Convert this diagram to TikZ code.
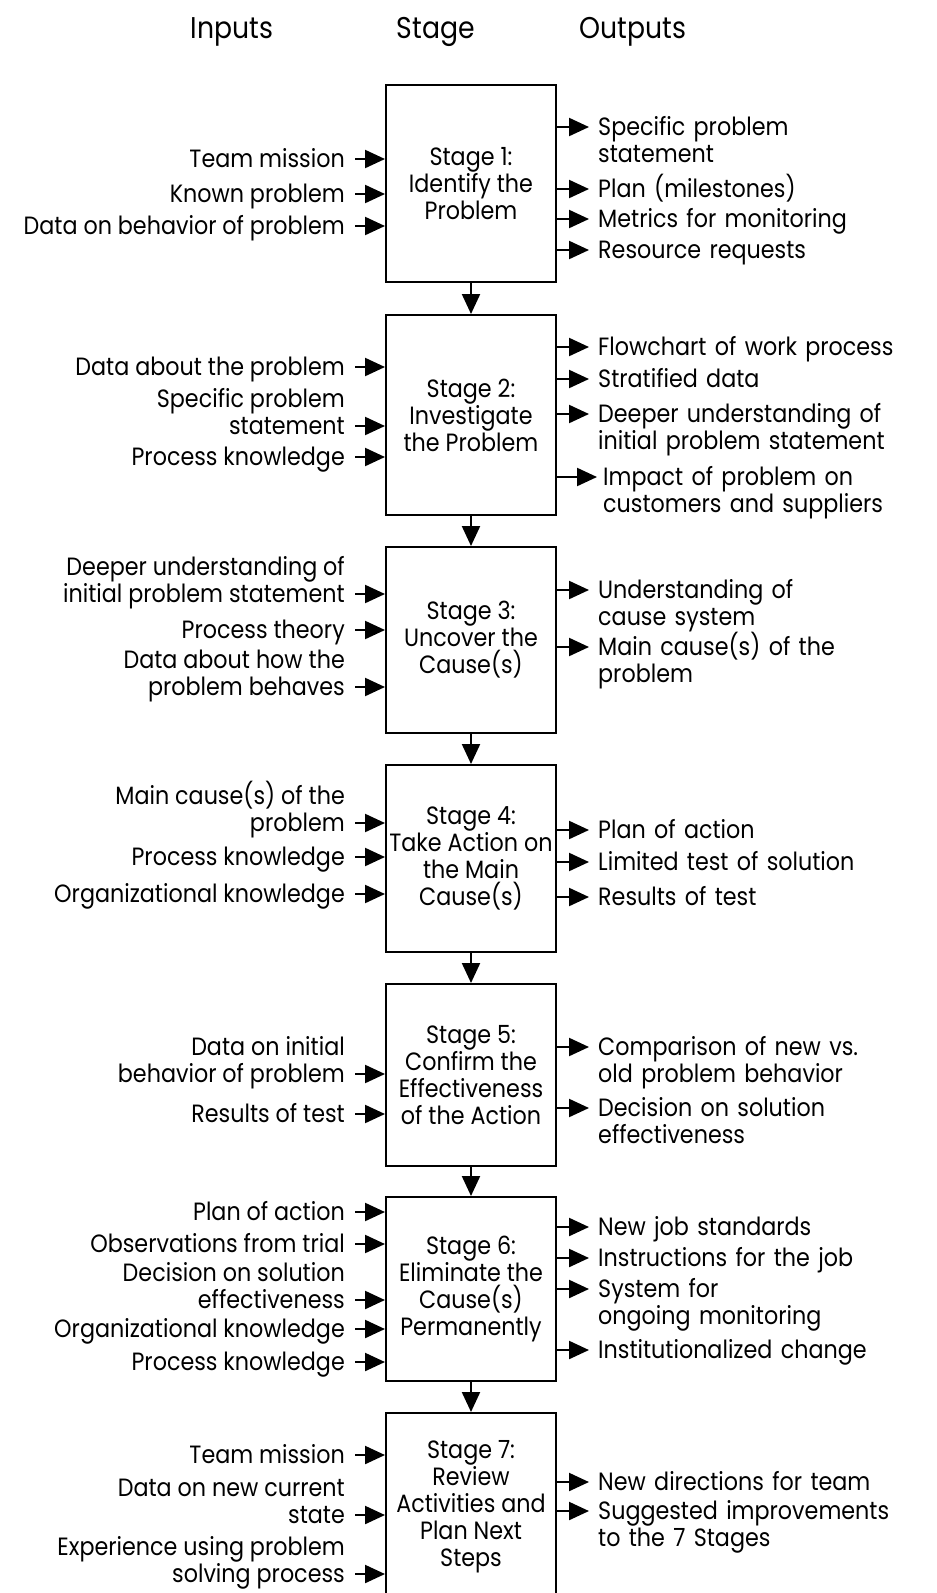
\documentclass[tikz,border=0pt]{standalone}
\usepackage{fontspec}
\setmainfont[FakeStretch=0.89]{Poppins}
\usetikzlibrary{arrows.meta,positioning,calc}

\begin{document}
\begin{tikzpicture}[x=1pt,y=-1pt,
  stagebox/.style={draw,line width=2pt,minimum width=170pt,inner sep=0pt,align=center,font=\fontsize{25}{27}\selectfont},
  inlbl/.style={anchor=base east,inner sep=0pt,align=right,font=\fontsize{25}{27}\selectfont},
  outlbl/.style={anchor=base west,inner sep=0pt,text width=330pt,align=left,font=\fontsize{25}{27}\selectfont},
  head/.style={anchor=base,inner sep=0pt,font=\fontsize{30}{32}\selectfont},
  arr/.style={-{Triangle[length=20pt,width=18pt]},line width=2.2pt}]
\useasboundingbox[fill=white] (0,0) rectangle (937,1593);

% column heads
\node[head] (hin) at (232,38) {Inputs};
\node[head] (hst) at (436,38) {Stage};
\node[head] (hout) at (633,38) {Outputs};

% the seven stages
\node[stagebox,minimum height=197pt] (s1) at (471,183.5) {Stage 1:\\Identify the\\Problem};
\node[stagebox,minimum height=200pt] (s2) at (471,415) {Stage 2:\\Investigate\\the Problem};
\node[stagebox,minimum height=186pt] (s3) at (471,640) {Stage 3:\\Uncover the\\Cause(s)};
\node[stagebox,minimum height=187pt] (s4) at (471,858.5) {Stage 4:\\Take Action on\\the Main\\Cause(s)};
\node[stagebox,minimum height=182pt] (s5) at (471,1075) {Stage 5:\\Confirm the\\Effectiveness\\of the Action};
\node[stagebox,minimum height=184pt] (s6) at (471,1289) {Stage 6:\\Eliminate the\\Cause(s)\\Permanently};
\node[stagebox,minimum height=187pt] (s7) at (471,1506.5) {Stage 7:\\Review\\Activities and\\Plan Next\\Steps};

\draw[arr] (s1) -- (s2);
\draw[arr] (s2) -- (s3);
\draw[arr] (s3) -- (s4);
\draw[arr] (s4) -- (s5);
\draw[arr] (s5) -- (s6);
\draw[arr] (s6) -- (s7);

% stage 1
\node[inlbl] (i1a) at (345,167) {Team mission};
\node[inlbl] (i1b) at (345,202) {Known problem};
\node[inlbl] (i1c) at (345,234) {Data on behavior of problem};
\draw[arr] ([xshift=10pt,yshift=8pt]i1a.base east) -- ([yshift=8pt]i1a.base east -| s1.west);
\draw[arr] ([xshift=10pt,yshift=8pt]i1b.base east) -- ([yshift=8pt]i1b.base east -| s1.west);
\draw[arr] ([xshift=10pt,yshift=8pt]i1c.base east) -- ([yshift=8pt]i1c.base east -| s1.west);
\node[outlbl] (o1a) at (598,135) {Specific problem\\statement};
\node[outlbl] (o1b) at (598,197) {Plan (milestones)};
\node[outlbl] (o1c) at (598,227) {Metrics for monitoring};
\node[outlbl] (o1d) at (598,258) {Resource requests};
\draw[arr] ([yshift=8pt]o1a.base west -| s1.east) -- ([xshift=-9pt,yshift=8pt]o1a.base west);
\draw[arr] ([yshift=8pt]o1b.base west -| s1.east) -- ([xshift=-9pt,yshift=8pt]o1b.base west);
\draw[arr] ([yshift=8pt]o1c.base west -| s1.east) -- ([xshift=-9pt,yshift=8pt]o1c.base west);
\draw[arr] ([yshift=8pt]o1d.base west -| s1.east) -- ([xshift=-9pt,yshift=8pt]o1d.base west);

% stage 2
\node[inlbl] (i2a) at (345,375) {Data about the problem};
\node[inlbl] (i2b) at (345,434) {Specific problem\\statement};
\node[inlbl] (i2c) at (345,465) {Process knowledge};
\draw[arr] ([xshift=10pt,yshift=8pt]i2a.base east) -- ([yshift=8pt]i2a.base east -| s2.west);
\draw[arr] ([xshift=10pt,yshift=8pt]i2b.base east) -- ([yshift=8pt]i2b.base east -| s2.west);
\draw[arr] ([xshift=10pt,yshift=8pt]i2c.base east) -- ([yshift=8pt]i2c.base east -| s2.west);
\node[outlbl] (o2a) at (598,355) {Flowchart of work process};
\node[outlbl] (o2b) at (598,387) {Stratified data};
\node[outlbl] (o2c) at (598,422) {Deeper understanding of\\initial problem statement};
\node[outlbl] (o2d) at (603,485) {Impact of problem on\\customers and suppliers};
\draw[arr] ([yshift=8pt]o2a.base west -| s2.east) -- ([xshift=-9pt,yshift=8pt]o2a.base west);
\draw[arr] ([yshift=8pt]o2b.base west -| s2.east) -- ([xshift=-9pt,yshift=8pt]o2b.base west);
\draw[arr] ([yshift=8pt]o2c.base west -| s2.east) -- ([xshift=-9pt,yshift=8pt]o2c.base west);
\draw[arr] ([yshift=8pt]o2d.base west -| s2.east) -- ([xshift=-6pt,yshift=8pt]o2d.base west);

% stage 3
\node[inlbl] (i3a) at (345,602) {Deeper understanding of\\initial problem statement};
\node[inlbl] (i3b) at (345,638) {Process theory};
\node[inlbl] (i3c) at (345,695) {Data about how the\\problem behaves};
\draw[arr] ([xshift=10pt,yshift=8pt]i3a.base east) -- ([yshift=8pt]i3a.base east -| s3.west);
\draw[arr] ([xshift=10pt,yshift=8pt]i3b.base east) -- ([yshift=8pt]i3b.base east -| s3.west);
\draw[arr] ([xshift=10pt,yshift=8pt]i3c.base east) -- ([yshift=8pt]i3c.base east -| s3.west);
\node[outlbl] (o3a) at (598,598) {Understanding of\\cause system};
\node[outlbl] (o3b) at (598,655) {Main cause(s) of the\\problem};
\draw[arr] ([yshift=8pt]o3a.base west -| s3.east) -- ([xshift=-9pt,yshift=8pt]o3a.base west);
\draw[arr] ([yshift=8pt]o3b.base west -| s3.east) -- ([xshift=-9pt,yshift=8pt]o3b.base west);

% stage 4
\node[inlbl] (i4a) at (345,831) {Main cause(s) of the\\problem};
\node[inlbl] (i4b) at (345,865) {Process knowledge};
\node[inlbl] (i4c) at (345,902) {Organizational knowledge};
\draw[arr] ([xshift=10pt,yshift=8pt]i4a.base east) -- ([yshift=8pt]i4a.base east -| s4.west);
\draw[arr] ([xshift=10pt,yshift=8pt]i4b.base east) -- ([yshift=8pt]i4b.base east -| s4.west);
\draw[arr] ([xshift=10pt,yshift=8pt]i4c.base east) -- ([yshift=8pt]i4c.base east -| s4.west);
\node[outlbl] (o4a) at (598,838) {Plan of action};
\node[outlbl] (o4b) at (598,870) {Limited test of solution};
\node[outlbl] (o4c) at (598,905) {Results of test};
\draw[arr] ([yshift=8pt]o4a.base west -| s4.east) -- ([xshift=-9pt,yshift=8pt]o4a.base west);
\draw[arr] ([yshift=8pt]o4b.base west -| s4.east) -- ([xshift=-9pt,yshift=8pt]o4b.base west);
\draw[arr] ([yshift=8pt]o4c.base west -| s4.east) -- ([xshift=-9pt,yshift=8pt]o4c.base west);

% stage 5
\node[inlbl] (i5a) at (345,1082) {Data on initial\\behavior of problem};
\node[inlbl] (i5b) at (345,1122) {Results of test};
\draw[arr] ([xshift=10pt,yshift=8pt]i5a.base east) -- ([yshift=8pt]i5a.base east -| s5.west);
\draw[arr] ([xshift=10pt,yshift=8pt]i5b.base east) -- ([yshift=8pt]i5b.base east -| s5.west);
\node[outlbl] (o5a) at (598,1055) {Comparison of new vs.\\old problem behavior};
\node[outlbl] (o5b) at (598,1116) {Decision on solution\\effectiveness};
\draw[arr] ([yshift=8pt]o5a.base west -| s5.east) -- ([xshift=-9pt,yshift=8pt]o5a.base west);
\draw[arr] ([yshift=8pt]o5b.base west -| s5.east) -- ([xshift=-9pt,yshift=8pt]o5b.base west);

% stage 6
\node[inlbl] (i6a) at (345,1220) {Plan of action};
\node[inlbl] (i6b) at (345,1252) {Observations from trial};
\node[inlbl] (i6c) at (345,1308) {Decision on solution\\effectiveness};
\node[inlbl] (i6d) at (345,1337) {Organizational knowledge};
\node[inlbl] (i6e) at (345,1370) {Process knowledge};
\draw[arr] ([xshift=10pt,yshift=8pt]i6a.base east) -- ([yshift=8pt]i6a.base east -| s6.west);
\draw[arr] ([xshift=10pt,yshift=8pt]i6b.base east) -- ([yshift=8pt]i6b.base east -| s6.west);
\draw[arr] ([xshift=10pt,yshift=8pt]i6c.base east) -- ([yshift=8pt]i6c.base east -| s6.west);
\draw[arr] ([xshift=10pt,yshift=8pt]i6d.base east) -- ([yshift=8pt]i6d.base east -| s6.west);
\draw[arr] ([xshift=10pt,yshift=8pt]i6e.base east) -- ([yshift=8pt]i6e.base east -| s6.west);
\node[outlbl] (o6a) at (598,1235) {New job standards};
\node[outlbl] (o6b) at (598,1266) {Instructions for the job};
\node[outlbl] (o6c) at (598,1297) {System for\\ongoing monitoring};
\node[outlbl] (o6d) at (598,1358) {Institutionalized change};
\draw[arr] ([yshift=8pt]o6a.base west -| s6.east) -- ([xshift=-9pt,yshift=8pt]o6a.base west);
\draw[arr] ([yshift=8pt]o6b.base west -| s6.east) -- ([xshift=-9pt,yshift=8pt]o6b.base west);
\draw[arr] ([yshift=8pt]o6c.base west -| s6.east) -- ([xshift=-9pt,yshift=8pt]o6c.base west);
\draw[arr] ([yshift=8pt]o6d.base west -| s6.east) -- ([xshift=-9pt,yshift=8pt]o6d.base west);

% stage 7
\node[inlbl] (i7a) at (345,1463) {Team mission};
\node[inlbl] (i7b) at (345,1523) {Data on new current\\state};
\node[inlbl] (i7c) at (345,1582) {Experience using problem\\solving process};
\draw[arr] ([xshift=10pt,yshift=8pt]i7a.base east) -- ([yshift=8pt]i7a.base east -| s7.west);
\draw[arr] ([xshift=10pt,yshift=8pt]i7b.base east) -- ([yshift=8pt]i7b.base east -| s7.west);
\draw[arr] ([xshift=10pt,yshift=8pt]i7c.base east) -- ([yshift=8pt]i7c.base east -| s7.west);
\node[outlbl] (o7a) at (598,1490) {New directions for team};
\node[outlbl] (o7b) at (598,1519) {Suggested improvements\\to the 7 Stages};
\draw[arr] ([yshift=8pt]o7a.base west -| s7.east) -- ([xshift=-9pt,yshift=8pt]o7a.base west);
\draw[arr] ([yshift=8pt]o7b.base west -| s7.east) -- ([xshift=-9pt,yshift=8pt]o7b.base west);
\end{tikzpicture}
\end{document}
